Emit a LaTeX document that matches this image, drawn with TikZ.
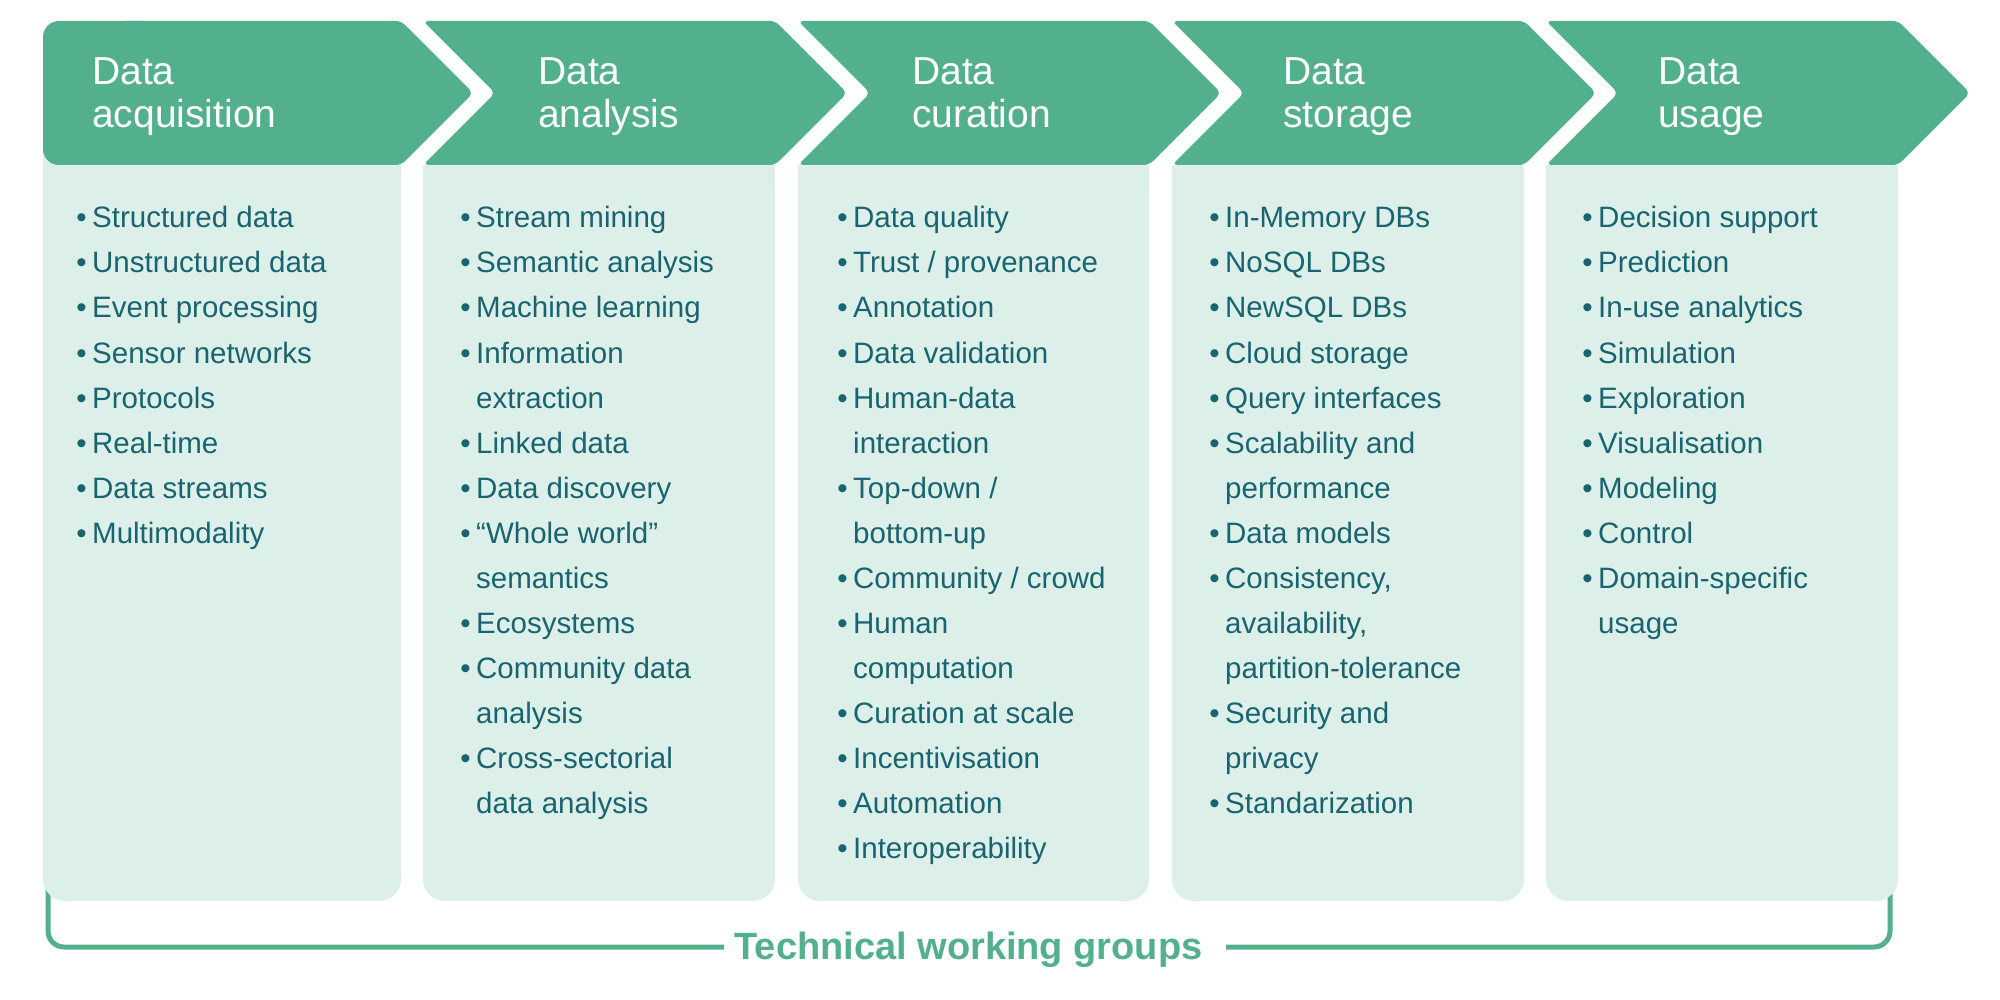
\documentclass[tikz,border=0pt]{standalone}
\usepackage{fontspec}
\setmainfont{Liberation Sans}
\definecolor{hdr}{HTML}{52B18C}
\definecolor{bodyc}{HTML}{DDEFE9}
\definecolor{txt}{HTML}{186471}
\newcommand{\bul}{\llap{•\hspace*{5.5pt}}}
\begin{document}
\begin{tikzpicture}[x=1pt,y=-1pt,
  hdrtxt/.style={anchor=base west, inner sep=0pt, text=white, font=\fontsize{39}{43}\selectfont},
  item/.style={anchor=base west, inner sep=0pt, text=txt, font=\fontsize{29.5}{45}\selectfont},
  brk/.style={draw=hdr, line width=5pt, rounded corners=16pt},
  chev/.style={fill=hdr, rounded corners=5pt},
  bodybox/.style={fill=bodyc, rounded corners=22pt}]
\useasboundingbox (0,0) rectangle (2000,1000);

% bracket
\coordinate (bl0) at (48,870);
\coordinate (bl1) at (48,947);
\coordinate (bl2) at (724,947);
\coordinate (br0) at (1890,870);
\coordinate (br1) at (1890,947);
\coordinate (br2) at (1226,947);
\draw[brk] (bl0) -- (bl1) -- (bl2);
\draw[brk] (br2) -- (br1) -- (br0);
\node[font=\bfseries\fontsize{38}{40}\selectfont, text=hdr, anchor=base, inner sep=0pt] (tw) at (968.5,959) {Technical working groups};

% bodies
\fill[bodybox] (43,150) rectangle (401,901);
\fill[bodyc] (43,150) rectangle (401,200);
\foreach \L/\R in {423/775, 798/1149, 1172/1524, 1546/1898}{
  \fill[bodybox] (\L,165) rectangle (\R,901);
  \fill[bodyc] (\L,165) rectangle (\R,200);
}

% headers
\fill[hdr, rounded corners=16pt] (43,21) rectangle (160,165);
\path[chev] (120,21) -- (401,21) -- (473,93) -- (401,165) -- (120,165) -- cycle;
\foreach \L/\R in {423/775, 798/1149, 1172/1524, 1546/1898}{
  \path[chev] (\L,21) -- (\R,21) -- ({\R+72},93) -- (\R,165) -- (\L,165) -- ({\L+72},93) -- cycle;
}

% header texts
\node[hdrtxt] (h1a) at (92,85) {Data};
\node[hdrtxt] (h1b) at (92,128) {acquisition};
\node[hdrtxt] (h2a) at (538,85) {Data};
\node[hdrtxt] (h2b) at (538,128) {analysis};
\node[hdrtxt] (h3a) at (912,85) {Data};
\node[hdrtxt] (h3b) at (912,128) {curation};
\node[hdrtxt] (h4a) at (1283,85) {Data};
\node[hdrtxt] (h4b) at (1283,128) {storage};
\node[hdrtxt] (h5a) at (1658,85) {Data};
\node[hdrtxt] (h5b) at (1658,128) {usage};

% column 1
\foreach \t [count=\k] in {\bul Structured data, \bul Unstructured data, \bul Event processing, \bul Sensor networks, \bul Protocols, \bul Real-time, \bul Data streams, \bul Multimodality}
  \node[item] (a\k) at (92,{183+45*\k}) {\t};

% column 2
\foreach \t [count=\k] in {\bul Stream mining, \bul Semantic analysis, \bul Machine learning, \bul Information, extraction, \bul Linked data, \bul Data discovery, \bul “Whole world”, semantics, \bul Ecosystems, \bul Community data, analysis, \bul Cross-sectorial, data analysis}
  \node[item] (b\k) at (476,{183+45*\k}) {\t};

% column 3
\foreach \t [count=\k] in {\bul Data quality, \bul Trust / provenance, \bul Annotation, \bul Data validation, \bul Human-data, interaction, \bul Top-down /, bottom-up, \bul Community / crowd, \bul Human, computation, \bul Curation at scale, \bul Incentivisation, \bul Automation, \bul Interoperability}
  \node[item] (c\k) at (853,{183+45*\k}) {\t};

% column 4
\foreach \t [count=\k] in {\bul In-Memory DBs, \bul NoSQL DBs, \bul NewSQL DBs, \bul Cloud storage, \bul Query interfaces, \bul Scalability and, performance, \bul Data models, {\bul Consistency,}, {availability,}, partition-tolerance, \bul Security and, privacy, \bul Standarization}
  \node[item] (d\k) at (1225,{183+45*\k}) {\t};

% column 5
\foreach \t [count=\k] in {\bul Decision support, \bul Prediction, \bul In-use analytics, \bul Simulation, \bul Exploration, \bul Visualisation, \bul Modeling, \bul Control, \bul Domain-specific, usage}
  \node[item] (e\k) at (1598,{183+45*\k}) {\t};
\end{tikzpicture}
\end{document}
